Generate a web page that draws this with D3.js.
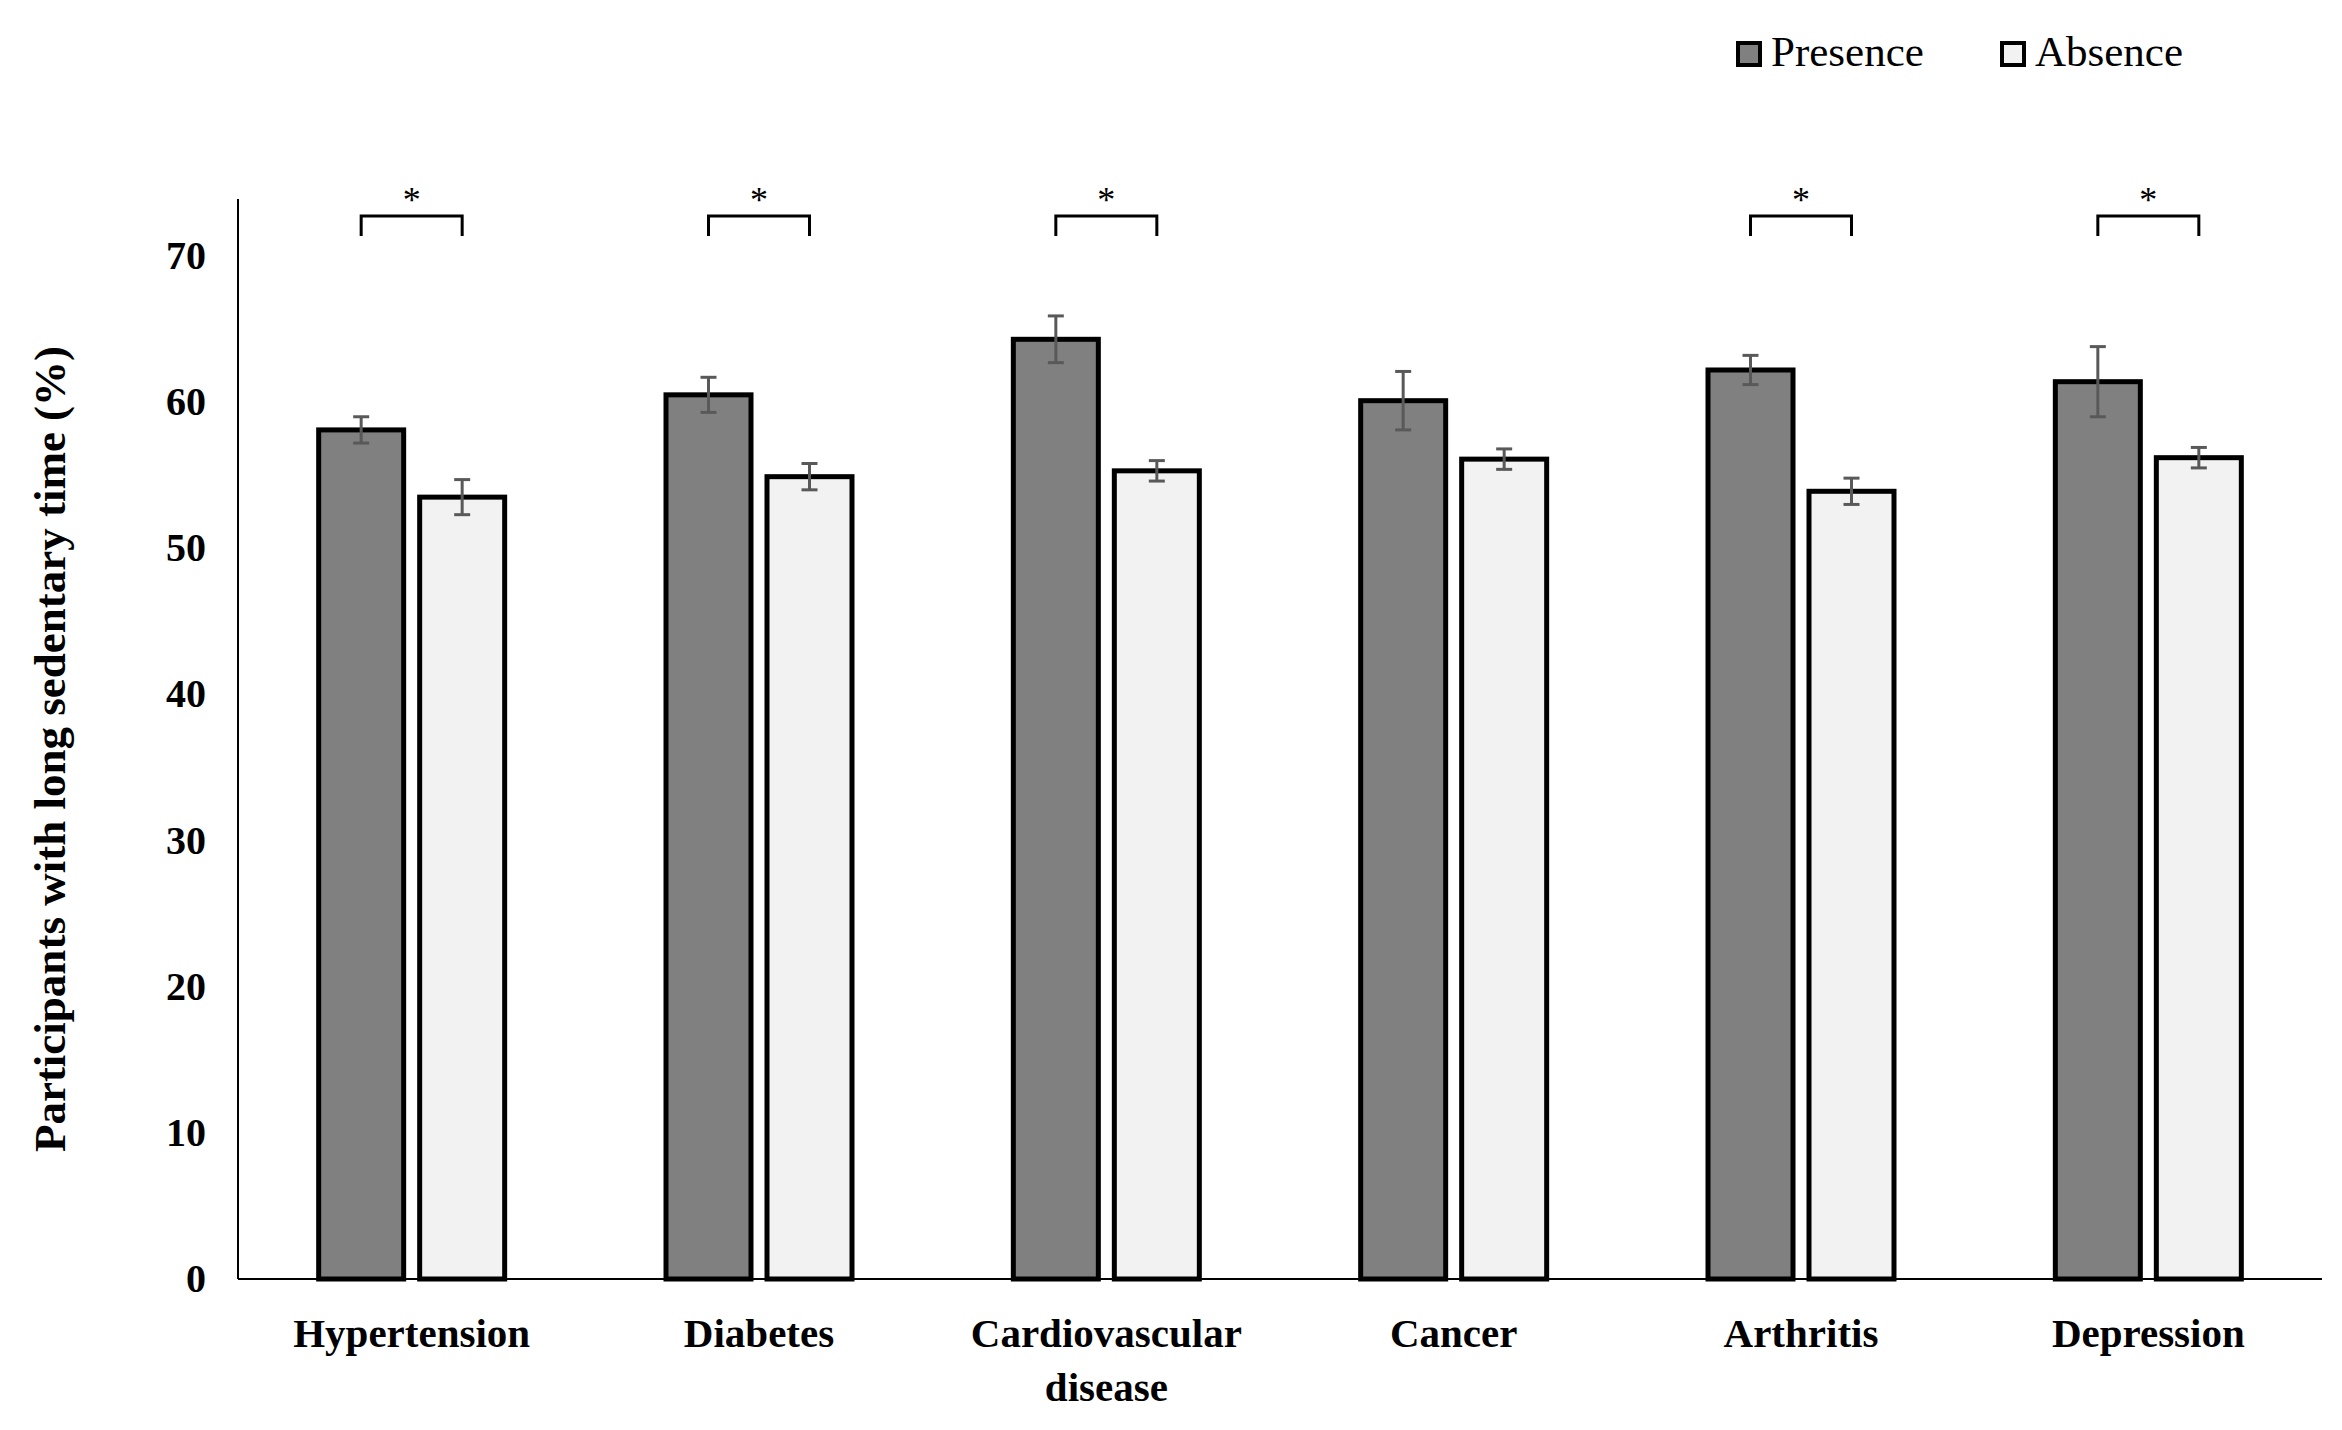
<!DOCTYPE html>
<html><head><meta charset="utf-8">
<script src="https://cdn.jsdelivr.net/npm/d3@7"></script>
<style>body{margin:0;background:#fff}</style>
</head><body><div id="chart"></div>
<script>
const categories = [["Hypertension"], ["Diabetes"], ["Cardiovascular", "disease"], ["Cancer"], ["Arthritis"], ["Depression"]];
const presence = [58.1, 60.5, 64.3, 60.1, 62.2, 61.4];
const presenceErr = [0.9, 1.2, 1.6, 2.0, 1.0, 2.4];
const absence = [53.5, 54.9, 55.3, 56.1, 53.9, 56.2];
const absenceErr = [1.2, 0.9, 0.7, 0.7, 0.9, 0.7];
const significant = [true, true, true, false, true, true];
const yTicks = [0, 10, 20, 30, 40, 50, 60, 70];

const W = 2342, H = 1430;
const PLOT_LEFT = 238, PLOT_RIGHT = 2322, PLOT_BOTTOM = 1279, PLOT_TOP = 199;
const FONT = "'Liberation Serif', 'Times New Roman', serif";

const svg = d3.select("#chart").append("svg").attr("width", W).attr("height", H);

const x = d3.scaleBand().domain(d3.range(categories.length)).range([PLOT_LEFT, PLOT_RIGHT]).padding(0);
const y = d3.scaleLinear().domain([0, 70]).range([PLOT_BOTTOM, 256]);
const barW = 85, gap = 16;

// axes
svg.append("line").attr("x1", PLOT_LEFT).attr("x2", PLOT_LEFT).attr("y1", PLOT_TOP).attr("y2", PLOT_BOTTOM)
    .attr("stroke", "#000").attr("stroke-width", 2);
svg.append("line").attr("x1", PLOT_LEFT).attr("x2", PLOT_RIGHT).attr("y1", PLOT_BOTTOM).attr("y2", PLOT_BOTTOM)
    .attr("stroke", "#000").attr("stroke-width", 2);

svg.append("g").selectAll("text").data(yTicks).join("text")
    .attr("x", PLOT_LEFT - 32).attr("y", d => y(d) + 13)
    .attr("text-anchor", "end").attr("font-family", FONT).attr("font-weight", "bold")
    .attr("font-size", 40).text(d => d);

svg.append("text")
    .attr("transform", "translate(65," + ((PLOT_TOP + PLOT_BOTTOM) / 2 + 10) + ") rotate(-90)")
    .attr("text-anchor", "middle").attr("font-family", FONT).attr("font-weight", "bold")
    .attr("font-size", 45).text("Participants with long sedentary time (%)");

// category labels
categories.forEach((lines, i) => {
    const t = svg.append("text").attr("text-anchor", "middle").attr("font-family", FONT)
        .attr("font-weight", "bold").attr("font-size", 41);
    lines.forEach((l, j) => t.append("tspan").attr("x", x(i) + x.bandwidth() / 2)
        .attr("y", 1347 + j * 54).text(l));
});

// bars
const series = [
    {vals: presence, err: presenceErr, fill: "#808080", off: -gap / 2 - barW},
    {vals: absence, err: absenceErr, fill: "#f2f2f2", off: gap / 2}
];
series.forEach(s => {
    const g = svg.append("g");
    s.vals.forEach((v, i) => {
        const bx = x(i) + x.bandwidth() / 2 + s.off;
        g.append("rect").attr("x", bx).attr("y", y(v)).attr("width", barW)
            .attr("height", PLOT_BOTTOM - y(v)).attr("fill", s.fill)
            .attr("stroke", "#000").attr("stroke-width", 5);
        const cx = bx + barW / 2;
        const e = s.err[i];
        g.append("line").attr("x1", cx).attr("x2", cx).attr("y1", y(v + e)).attr("y2", y(v - e))
            .attr("stroke", "#595959").attr("stroke-width", 3);
        [v + e, v - e].forEach(ev => g.append("line").attr("x1", cx - 8).attr("x2", cx + 8)
            .attr("y1", y(ev)).attr("y2", y(ev)).attr("stroke", "#595959").attr("stroke-width", 3));
    });
});

// significance brackets
significant.forEach((s, i) => {
    if (!s) return;
    const c = x(i) + x.bandwidth() / 2;
    const x1 = c - gap / 2 - barW / 2, x2 = c + gap / 2 + barW / 2;
    svg.append("path").attr("d", `M${x1},236V216H${x2}V236`)
        .attr("fill", "none").attr("stroke", "#000").attr("stroke-width", 3);
    svg.append("text").attr("x", (x1 + x2) / 2).attr("y", 212).attr("text-anchor", "middle")
        .attr("font-family", FONT).attr("font-size", 36).text("*");
});

// legend
const legend = [["Presence", "#808080", 1738], ["Absence", "#f2f2f2", 2002]];
legend.forEach(([name, fill, lx]) => {
    svg.append("rect").attr("x", lx).attr("y", 43).attr("width", 22).attr("height", 22)
        .attr("fill", fill).attr("stroke", "#000").attr("stroke-width", 4);
    svg.append("text").attr("x", lx + 33).attr("y", 66).attr("font-family", FONT)
        .attr("font-size", 43).text(name);
});
</script></body></html>
